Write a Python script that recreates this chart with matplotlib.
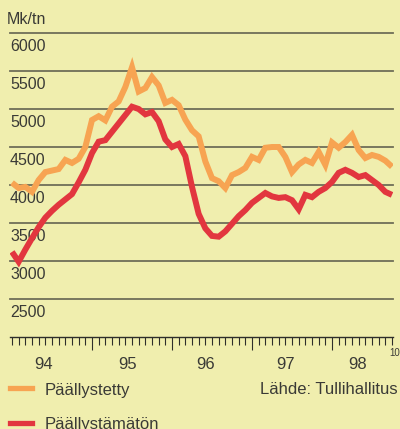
import matplotlib
matplotlib.use("Agg")
import matplotlib.pyplot as plt
from matplotlib.transforms import blended_transform_factory

plt.rcParams['font.family'] = ['Liberation Sans', 'DejaVu Sans']

# ---- data (monthly, Jan 1994 .. Oct 1998) ----
paallystetty = [4030, 3960, 3975, 3910, 4065, 4170, 4190, 4210, 4330, 4290,
                4345, 4500, 4855, 4905, 4850, 5030, 5100, 5290, 5550, 5230,
                5275, 5420, 5310, 5080, 5120, 5050, 4860, 4720, 4640, 4310,
                4090, 4050, 3960, 4130, 4170, 4225, 4370, 4330, 4490, 4500,
                4500, 4370, 4170, 4270, 4330, 4290, 4435, 4265, 4560, 4490,
                4565, 4660, 4460, 4355, 4395, 4370, 4320, 4240]
paallystamaton = [3120, 2990, 3150, 3300, 3445, 3570, 3660, 3740, 3810, 3880,
                  4035, 4200, 4420, 4570, 4590, 4700, 4810, 4920, 5030, 5000,
                  4930, 4960, 4840, 4600, 4500, 4540, 4380, 3975, 3620, 3430,
                  3330, 3320, 3390, 3490, 3590, 3670, 3765, 3830, 3895, 3850,
                  3830, 3840, 3800, 3680, 3870, 3840, 3910, 3960, 4040, 4160,
                  4200, 4160, 4105, 4130, 4065, 4000, 3910, 3870]
months = list(range(len(paallystetty)))
y_ticks = [6000, 5500, 5000, 4500, 4000, 3500, 3000, 2500]
y_tick_labels = ["6000", "5500", "5000", "4500", "4000", "3500", "3000", "2500"]
year_labels = ["94", "95", "96", "97", "98"]
year_label_pos = [4.7, 17.4, 29.1, 41.1, 51.9]
year_starts = [12, 24, 36, 48]
series_names = ["Päällystetty", "Päällystämätön"]
unit_label = "Mk/tn"
source_label = "Lähde: Tullihallitus"
end_month_label = "10"

# ---- style ----
bg = "#F0EEAE"
c_orange = "#F7A452"
c_red = "#E2363F"
grid_c = "#6F6E58"
text_c = "#3A3A36"

W, H = 400, 429
fig = plt.figure(figsize=(W / 100, H / 100), dpi=100, facecolor=bg)
x0, x1 = 10, 393
ytop, ybot = 33, 337
ax = fig.add_axes([x0 / W, (H - ybot) / H, (x1 - x0) / W, (ybot - ytop) / H])
ax.set_facecolor(bg)
ax.set_xlim(-0.3, 57.15)
ax.set_ylim(2000, 6000)

for s in ["top", "left", "right"]:
    ax.spines[s].set_visible(False)
ax.spines["bottom"].set_color("#2E2E2A")
ax.spines["bottom"].set_linewidth(1.0)

for v in y_ticks:
    ax.axhline(v, color=grid_c, lw=1.3, zorder=1, clip_on=False)

ax.set_yticks([])
trans = blended_transform_factory(ax.transAxes, ax.transData)
for v, lab in zip(y_ticks, y_tick_labels):
    ax.annotate(lab, xy=(0, v), xycoords=trans, xytext=(0, -4),
                textcoords="offset points", ha="left", va="top",
                fontsize=11.5, color=text_c, zorder=2)

ax.plot(months, paallystetty, color=c_orange, lw=4.3, zorder=3,
        solid_joinstyle="miter", solid_capstyle="butt")
ax.plot(months, paallystamaton, color=c_red, lw=4.3, zorder=4,
        solid_joinstyle="miter", solid_capstyle="butt")

ax.set_xticks(year_starts)
ax.set_xticklabels([])
ax.set_xticks([m for m in months if m not in year_starts], minor=True)
ax.tick_params(axis="x", which="major", direction="out", length=9.5,
               width=0.8, color="#2E2E2A")
ax.tick_params(axis="x", which="minor", direction="out", length=5.5,
               width=0.8, color="#2E2E2A")

xtrans = blended_transform_factory(ax.transData, ax.transAxes)
for p, lab in zip(year_label_pos, year_labels):
    ax.text(p, -0.092, lab, transform=xtrans, ha="center", va="center",
            fontsize=12, color=text_c)

fig.text(389 / W, 1 - 353 / H, end_month_label, ha="left", va="center",
         fontsize=7, color=text_c)

fig.text(7 / W, 1 - 19 / H, unit_label, ha="left", va="center",
         fontsize=11.5, color=text_c)

# legend
for yy, col, name in [(388, c_orange, series_names[0]),
                      (423, c_red, series_names[1])]:
    fig.add_artist(plt.Line2D([10 / W, 32 / W], [1 - yy / H, 1 - yy / H],
                              color=col, lw=3.8, transform=fig.transFigure))
    fig.text(45 / W, 1 - (yy + 2) / H, name, ha="left", va="center",
             fontsize=12, color=text_c)

fig.text(398 / W, 1 - 390 / H, source_label, ha="right", va="center",
         fontsize=12, color=text_c)

fig.savefig("out.png", dpi=100, facecolor=bg)
